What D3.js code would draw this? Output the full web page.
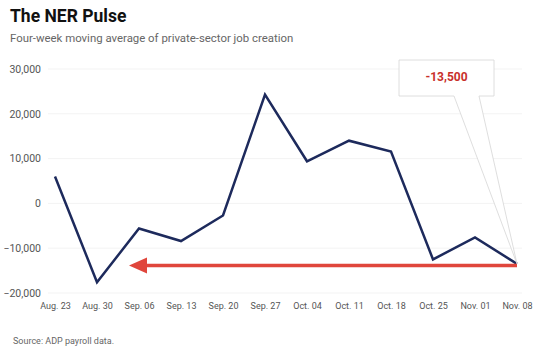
<!DOCTYPE html>
<html>
<head>
<meta charset="utf-8">
<script src="https://cdn.jsdelivr.net/npm/d3@7"></script>
<style>
  body { margin: 0; background: #fff; }
  svg { display: block; font-family: Roboto, "Noto Sans", sans-serif; }
</style>
</head>
<body>
<svg id="chart" width="540" height="349"></svg>
<script>
// weekly dates and the four-week moving average of job creation
const weeks = ['Aug. 23', 'Aug. 30', 'Sep. 06', 'Sep. 13', 'Sep. 20', 'Sep. 27',
               'Oct. 04', 'Oct. 11', 'Oct. 18', 'Oct. 25', 'Nov. 01', 'Nov. 08'];
const jobs = [6000, -17600, -5600, -8400, -2700, 24300, 9400, 14000, 11600, -12500, -7600, -13500];
const yTicks = [30000, 20000, 10000, 0, -10000, -20000];
const latestLabel = '-13,500';

const svg = d3.select('#chart');
const fmt = d3.format(',');

const x = d3.scalePoint().domain(weeks).range([55, 517]);
const y = d3.scaleLinear().domain([-20000, 30000]).range([293, 69]);

// faint horizontal grid
svg.append('g')
    .selectAll('line')
    .data(yTicks)
    .join('line')
    .attr('x1', 48).attr('x2', 522)
    .attr('y1', d => y(d)).attr('y2', d => y(d))
    .attr('stroke', '#f3f3f3');

const yAxis = svg.append('g')
    .attr('transform', 'translate(41,0)')
    .call(d3.axisLeft(y).tickValues(yTicks).tickSize(0).tickPadding(0).tickFormat(fmt));
yAxis.select('.domain').remove();
yAxis.selectAll('text').attr('fill', '#555').attr('font-size', 10.5)
    .attr('font-family', 'Roboto, sans-serif');

const xAxis = svg.append('g')
    .attr('transform', 'translate(0,303)')
    .call(d3.axisBottom(x).tickSize(0).tickPadding(0));
xAxis.select('.domain').remove();
xAxis.selectAll('text').attr('fill', '#555').attr('font-size', 9)
    .attr('font-family', 'Roboto, sans-serif');

// the moving average line
const line = d3.line().x((d, i) => x(weeks[i])).y(d => y(d));
svg.append('path')
    .datum(jobs)
    .attr('d', line)
    .attr('fill', 'none')
    .attr('stroke', '#1d2a5c')
    .attr('stroke-width', 2.5)
    .attr('stroke-linejoin', 'miter');

// red arrow running back from the latest week
const last = jobs[jobs.length - 1];
const ax0 = x(weeks[weeks.length - 1]), ay = y(last) + 1.5;
const ax1 = x(weeks[2]) - 10;
svg.append('line')
    .attr('x1', ax0).attr('x2', ax1 + 14)
    .attr('y1', ay).attr('y2', ay)
    .attr('stroke', '#e0463c')
    .attr('stroke-width', 3.5);
svg.append('path')
    .attr('d', `M${ax1},${ay} L${ax1 + 18},${ay - 8} L${ax1 + 18},${ay + 8} Z`)
    .attr('fill', '#e0463c');

// callout box pointing at the latest value
const bx = 399, by = 60, bw = 95, bh = 36;
const px = ax0, py = y(last);
svg.append('path')
    .attr('d', `M${bx},${by} H${bx + bw} V${by + bh} H${bx + 80} L${px},${py} L${bx + 55},${by + bh} H${bx} Z`)
    .attr('fill', '#fff')
    .attr('stroke', '#d6d6d6')
    .attr('stroke-width', 0.8);
svg.append('text')
    .attr('x', bx + bw / 2).attr('y', by + 21)
    .attr('text-anchor', 'middle')
    .attr('font-size', 12).attr('font-weight', 700)
    .attr('fill', '#c8302b')
    .text(latestLabel);

svg.append('text')
    .attr('x', 10).attr('y', 22)
    .attr('font-size', 17.5).attr('font-weight', 700)
    .attr('fill', '#111')
    .text('The NER Pulse');
svg.append('text')
    .attr('x', 10).attr('y', 42)
    .attr('font-size', 11.4).attr('fill', '#666')
    .text('Four-week moving average of private-sector job creation');
svg.append('text')
    .attr('x', 13).attr('y', 344)
    .attr('font-size', 9).attr('fill', '#666')
    .text('Source: ADP payroll data.');
</script>
</body>
</html>
